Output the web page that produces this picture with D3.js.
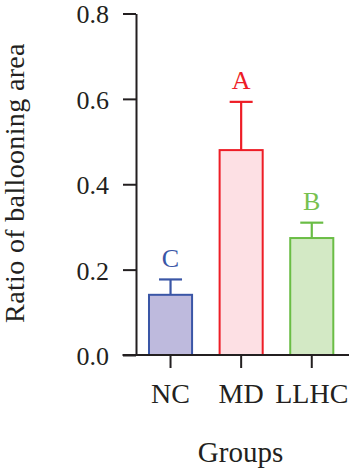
<!DOCTYPE html>
<html>
<head>
<meta charset="utf-8">
<script src="https://cdn.jsdelivr.net/npm/d3@7"></script>
<style>
  html, body { margin: 0; padding: 0; background: #fff; }
  svg { display: block; }
  svg text { font-family: "Liberation Serif", "Times New Roman", serif !important; }
</style>
</head>
<body>
<svg id="chart" width="349" height="474"></svg>
<script>
// ---- data ----
const groups = ["NC", "MD", "LLHC"];
const means = [0.141, 0.480, 0.274];
const errors = [0.036, 0.113, 0.036];
const letters = ["C", "A", "B"];
const yTicks = [0.0, 0.2, 0.4, 0.6, 0.8];
const strokeColors = ["#3a56a6", "#ee1d26", "#6abd45"];
const fillColors = ["#bebadd", "#fde0e4", "#d3e9c5"];
const letterColors = ["#3a56a6", "#ee1d26", "#77c14f"];

const svg = d3.select("#chart");
const serif = '"Liberation Serif", "Times New Roman", serif';

const y = d3.scaleLinear().domain([0, 0.8]).range([355, 13.5]);
const x = d3.scaleBand().domain(groups).range([136, 346.3])
  .paddingInner(0.39).paddingOuter(0.184);

const axisColor = "#231f20";

// bars
const g = svg.append("g");
groups.forEach((name, i) => {
  const bx = x(name), bw = x.bandwidth(), cx = bx + bw / 2;
  const top = y(means[i]);
  const etop = y(means[i] + errors[i]);
  g.append("line").attr("x1", cx).attr("x2", cx).attr("y1", top).attr("y2", etop)
    .attr("stroke", strokeColors[i]).attr("stroke-width", 2.2);
  g.append("line").attr("x1", cx - 11.5).attr("x2", cx + 11.5).attr("y1", etop).attr("y2", etop)
    .attr("stroke", strokeColors[i]).attr("stroke-width", 2.2);
  g.append("rect").attr("x", bx).attr("y", top).attr("width", bw).attr("height", y(0) - top)
    .attr("fill", fillColors[i]).attr("stroke", strokeColors[i]).attr("stroke-width", 2);
  g.append("text").attr("x", cx).attr("y", etop - 12.5).attr("text-anchor", "middle")
    .attr("fill", letterColors[i]).attr("font-family", serif).attr("font-size", 26).text(letters[i]);
});

// y axis
const yAxis = svg.append("g").attr("transform", "translate(136,0)")
  .call(d3.axisLeft(y).tickValues(yTicks).tickSize(13).tickSizeOuter(0).tickPadding(14)
    .tickFormat(d3.format(".1f")));
yAxis.attr("font-family", serif);
yAxis.select(".domain").attr("stroke", axisColor).attr("stroke-width", 2);
yAxis.selectAll(".tick line").attr("stroke", axisColor).attr("stroke-width", 2);
yAxis.selectAll(".tick text").attr("font-size", 26).attr("fill", axisColor)
  .attr("font-family", serif).attr("dy", "0.36em");

// x axis
const xAxis = svg.append("g").attr("transform", `translate(0,${y(0)})`)
  .call(d3.axisBottom(x).tickSize(13).tickSizeOuter(0).tickPadding(15.4));
xAxis.attr("font-family", serif);
xAxis.select(".domain").remove();
xAxis.append("line").attr("x1", 122.5).attr("x2", 349).attr("y1", 0).attr("y2", 0)
  .attr("stroke", axisColor).attr("stroke-width", 2);
xAxis.selectAll(".tick line").attr("stroke", axisColor).attr("stroke-width", 2);
xAxis.selectAll(".tick text").attr("font-size", 28).attr("fill", axisColor)
  .attr("font-family", serif);

// axis titles
svg.append("text").attr("x", 240.5).attr("y", 462).attr("text-anchor", "middle")
  .attr("font-family", serif).attr("font-size", 29).attr("fill", axisColor).text("Groups");
svg.append("text").attr("transform", "translate(24,183) rotate(-90)")
  .attr("text-anchor", "middle").attr("font-family", serif).attr("font-size", 28)
  .attr("letter-spacing", 0.35).attr("fill", axisColor)
  .text("Ratio of ballooning area");
</script>
</body>
</html>
